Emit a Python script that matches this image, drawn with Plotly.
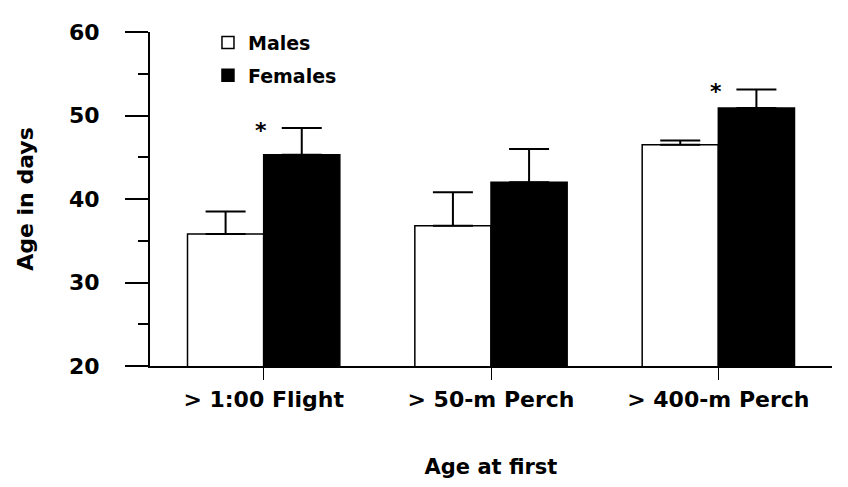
import plotly.graph_objects as go

categories = ["> 1:00 Flight", "> 50-m Perch", "> 400-m Perch"]
males_mean = [35.8, 36.8, 46.5]
males_se = [2.7, 4.0, 0.5]
females_mean = [45.3, 42.0, 50.9]
females_se = [3.2, 4.0, 2.2]
significant = [True, False, True]
y_ticks = [20, 30, 40, 50, 60]

xpos = list(range(len(categories)))
FONT = "DejaVu Sans"

fig = go.Figure()
fig.add_trace(go.Bar(
    x=xpos, y=males_mean, name="Males", legendgroup="m",
    marker=dict(color="white", line=dict(color="black", width=1.5)),
    error_y=dict(type="data", array=males_se, arrayminus=[0] * len(males_se),
                 symmetric=False, color="black", thickness=2, width=20),
))
fig.add_trace(go.Bar(
    x=xpos, y=females_mean, name="Females", legendgroup="f",
    marker=dict(color="black", line=dict(color="black", width=1.5)),
    error_y=dict(type="data", array=females_se, arrayminus=[0] * len(females_se),
                 symmetric=False, color="black", thickness=2, width=20),
))

for i, sig in enumerate(significant):
    if sig:
        fig.add_annotation(x=xpos[i] - 0.01, y=females_mean[i] + females_se[i],
                           text="*", showarrow=False, yanchor="middle", yshift=-2,
                           font=dict(family=FONT, size=22, color="black", weight="bold"))

fig.update_layout(
    width=840, height=479,
    margin=dict(l=142, r=16, t=20, b=116),
    paper_bgcolor="white", plot_bgcolor="white",
    barmode="group", bargap=0.33, bargroupgap=0,
    font=dict(family=FONT, color="black", size=20, weight="bold"),
    legend=dict(x=0.085, y=1.025, xanchor="left", yanchor="top",
                bgcolor="rgba(0,0,0,0)", tracegroupgap=5,
                font=dict(family=FONT, size=19, weight="bold")),
    xaxis=dict(range=[-0.5, 2.5], tickvals=xpos, ticktext=categories,
               showline=True, linecolor="black", linewidth=2,
               ticks="outside", ticklen=12, tickwidth=1, tickcolor="black",
               ticklabelstandoff=1, showgrid=False, zeroline=False,
               tickfont=dict(family=FONT, size=22, weight="bold"),
               title=dict(text="Age at first", standoff=48,
                          font=dict(family=FONT, size=21, weight="bold"))),
    yaxis=dict(range=[20, 60], tickvals=y_ticks,
               showline=True, linecolor="black", linewidth=2,
               ticks="outside", ticklen=23, tickwidth=2, tickcolor="black",
               minor=dict(ticks="outside", ticklen=10, tickwidth=1.5,
                          tickcolor="black", dtick=5),
               ticklabelstandoff=21, showgrid=False, zeroline=False,
               tickfont=dict(family=FONT, size=22, weight="bold"),
               title=dict(text="Age in days", standoff=29,
                          font=dict(family=FONT, size=22, weight="bold"))),
)

fig.write_html("out.html")
